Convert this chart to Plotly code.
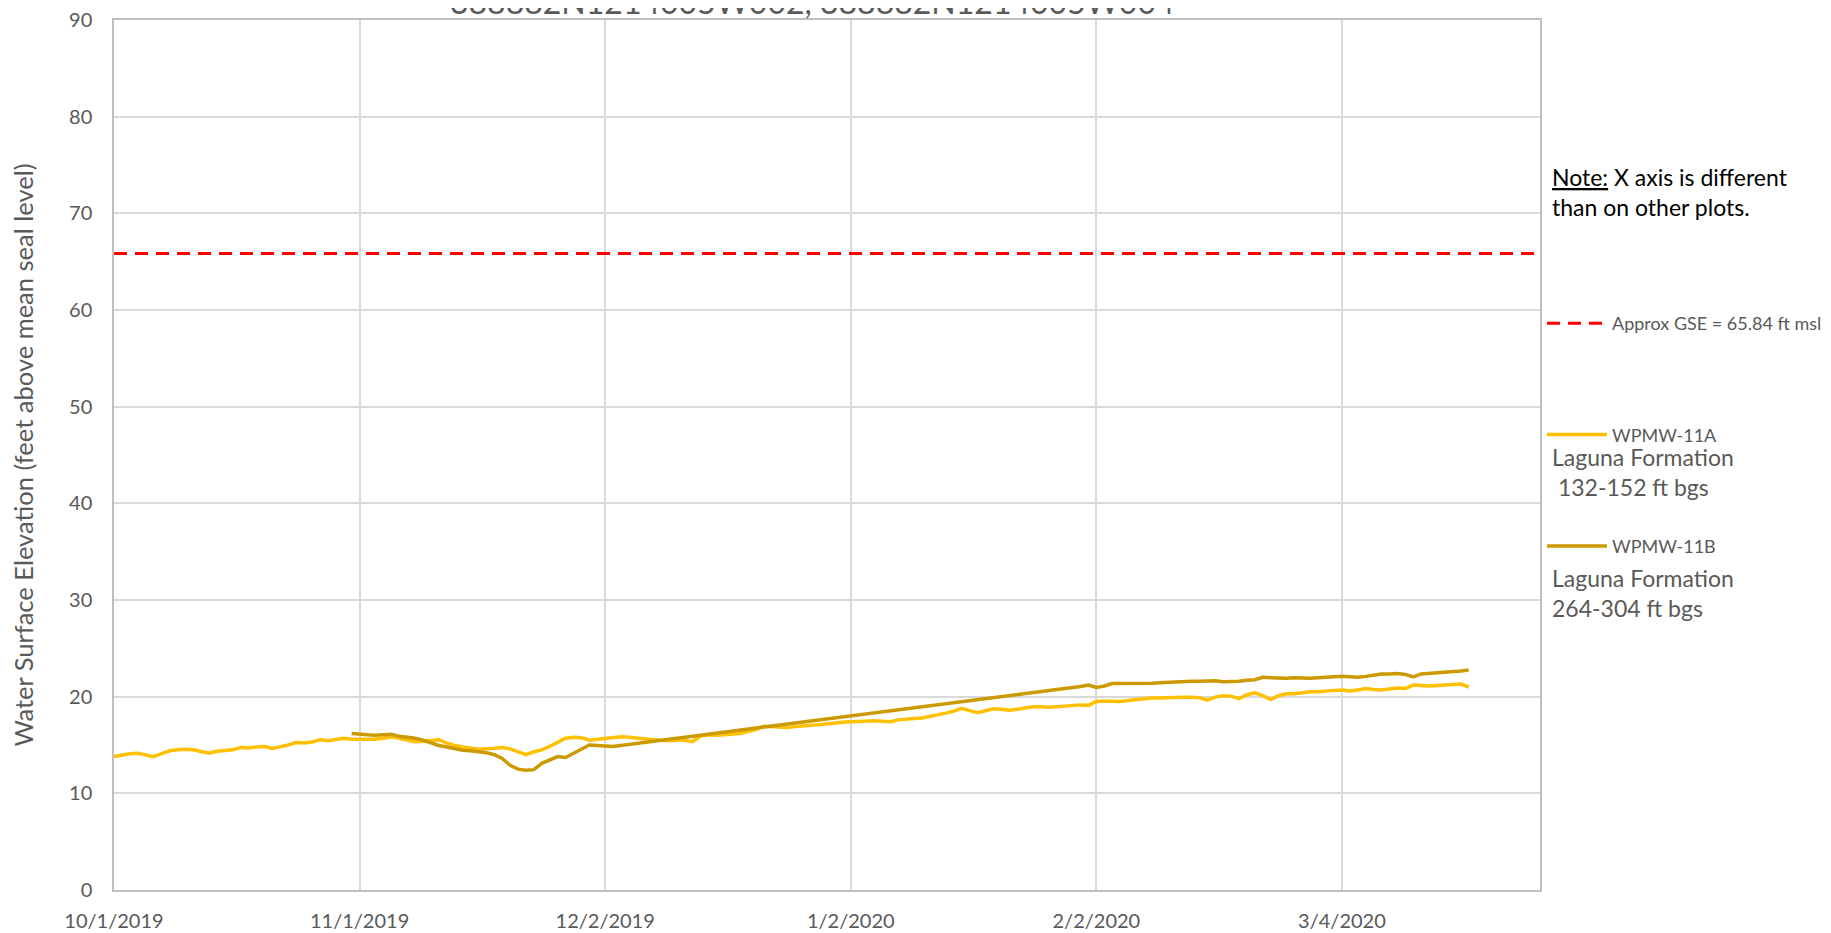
import pandas as pd
import plotly.graph_objects as go

# ---------------- data ----------------
wpmw11a_start = "2019-10-01"
wpmw11a_values = [
    13.8, 13.95, 14.1, 14.15, 14.0, 13.8, 14.1, 14.4, 14.5, 14.55,
    14.5, 14.3, 14.15, 14.35, 14.45, 14.5, 14.75, 14.7, 14.8, 14.85,
    14.65, 14.8, 15.0, 15.25, 15.2, 15.3, 15.55, 15.45, 15.55, 15.7,
    15.6, 15.6, 15.65, 15.6, 15.7, 15.85, 15.7, 15.5, 15.35, 15.4,
    15.45, 15.55, 15.2, 14.95, 14.8, 14.65, 14.55, 14.6, 14.7, 14.75,
    14.6, 14.3, 14.0, 14.3, 14.5, 14.85, 15.3, 15.7, 15.8, 15.75,
    15.5, 15.6, 15.7, 15.75, 15.85, 15.8, 15.7, 15.6, 15.55, 15.5,
    15.45, 15.5, 15.5, 15.35, 15.9, 16.05, 16.0, 16.05, 16.1, 16.2,
    16.4, 16.6, 16.95, 16.9, 16.85, 16.8, 16.9, 17.0, 17.05, 17.1,
    17.2, 17.25, 17.35, 17.4, 17.45, 17.5, 17.5, 17.45, 17.4, 17.6,
    17.7, 17.75, 17.8, 17.95, 18.15, 18.3, 18.5, 18.8, 18.55, 18.35,
    18.55, 18.75, 18.7, 18.6, 18.7, 18.85, 18.95, 18.95, 18.9, 18.95,
    19.0, 19.1, 19.15, 19.1, 19.5, 19.55, 19.55, 19.5, 19.6, 19.7,
    19.75, 19.85, 19.85, 19.9, 19.9, 19.95, 19.95, 19.9, 19.65, 19.95,
    20.1, 20.05, 19.8, 20.2, 20.4, 20.1, 19.7, 20.1, 20.3, 20.3,
    20.4, 20.5, 20.5, 20.6, 20.65, 20.7, 20.6, 20.7, 20.85, 20.75,
    20.7, 20.8, 20.9, 20.85, 21.2, 21.15, 21.1, 21.15, 21.2, 21.25,
    21.3, 21.0,
]

wpmw11b_part1_start = "2019-10-31"
wpmw11b_part1_values = [
    16.2, 16.1, 16.05, 16.0, 16.05, 16.1, 15.9, 15.8, 15.7, 15.5,
    15.2, 14.95, 14.8, 14.65, 14.45, 14.4, 14.3, 14.2, 14.0, 13.6,
    12.9, 12.5, 12.4, 12.45, 13.1, 13.45, 13.8, 13.7, 14.15, 14.6,
    15.0, 14.95, 14.9, 14.85,
]
wpmw11b_part2_start = "2020-01-31"
wpmw11b_part2_values = [
    21.05, 21.2, 20.95, 21.1, 21.35, 21.35, 21.4, 21.35,
    21.35, 21.4, 21.45, 21.5, 21.55, 21.55, 21.6, 21.6, 21.6, 21.65,
    21.55, 21.55, 21.6, 21.7, 21.75, 22.0, 21.95, 21.9, 21.9, 21.95,
    21.9, 21.9, 21.95, 22.0, 22.1, 22.1, 22.05, 22.0, 22.1, 22.25,
    22.35, 22.35, 22.4, 22.3, 22.05, 22.35, 22.4, 22.45, 22.5, 22.55,
    22.65, 22.75,
]

gse_dates = ["2019-10-01", "2020-03-29"]
gse_values = [65.84, 65.84]

x_range = ["2019-10-01", "2020-03-29"]
tick_dates = ["2019-10-01", "2019-11-01", "2019-12-02", "2020-01-02", "2020-02-02", "2020-03-04"]
tick_labels = ["10/1/2019", "11/1/2019", "12/2/2019", "1/2/2020", "2/2/2020", "3/4/2020"]
y_ticks = [0, 10, 20, 30, 40, 50, 60, 70, 80, 90]

# ---------------- build ----------------
a_dates = pd.date_range(wpmw11a_start, periods=len(wpmw11a_values), freq="D")
b_dates = list(pd.date_range(wpmw11b_part1_start, periods=len(wpmw11b_part1_values), freq="D")) + \
          list(pd.date_range(wpmw11b_part2_start, periods=len(wpmw11b_part2_values), freq="D"))
b_values = wpmw11b_part1_values + wpmw11b_part2_values

FONT = "Lato, 'Open Sans', sans-serif"
GREY = "#595959"

# the page body adds an 8px offset; the figure is sized so it ends at the window edge
OFF = 8
W, H = 1831 - OFF, 933 - OFF
ML, MT = 114 - OFF, 20 - OFF
PLOT_R, PLOT_B = 1540 - OFF, 890 - OFF
MR, MB = W - PLOT_R, H - PLOT_B
PW = PLOT_R - ML
PH = PLOT_B - MT


def px_x(x_ref):
    return (x_ref - OFF - ML) / PW


def px_y(y_ref):
    return (PLOT_B - (y_ref - OFF)) / PH


fig = go.Figure()
fig.add_trace(go.Scatter(
    x=gse_dates, y=gse_values, mode="lines", name="Approx GSE = 65.84 ft msl",
    line=dict(color="#FF0000", width=3, dash="13px,8px"),
    legendgroup="g1", legendrank=1, hoverinfo="skip"))
fig.add_trace(go.Scatter(
    x=a_dates, y=wpmw11a_values, mode="lines", name="WPMW-11A",
    line=dict(color="#FFC000", width=3.5),
    legendgroup="g2", legendrank=2))
fig.add_trace(go.Scatter(
    x=b_dates, y=b_values, mode="lines", name="WPMW-11B",
    line=dict(color="#CC9A00", width=3.5),
    legendgroup="g3", legendrank=3))

annotations = [
    dict(text="388882N1214005W002, 388882N1214005W004", xref="paper", yref="paper",
         x=px_x(812), y=px_y(2), xanchor="center", yanchor="middle", showarrow=False,
         font=dict(family=FONT, size=32, color=GREY)),
    dict(text="<u>Note:</u> X axis is different<br>than on other plots.", xref="paper", yref="paper",
         x=px_x(1550), y=px_y(192), xanchor="left", yanchor="middle", align="left", showarrow=False,
         font=dict(family=FONT, size=23, color="#000000")),
    dict(text="Laguna Formation<br>\u00a0132-152 ft bgs", xref="paper", yref="paper",
         x=px_x(1550), y=px_y(472), xanchor="left", yanchor="middle", align="left", showarrow=False,
         font=dict(family=FONT, size=23, color=GREY)),
    dict(text="Laguna Formation<br>264-304 ft bgs", xref="paper", yref="paper",
         x=px_x(1550), y=px_y(593), xanchor="left", yanchor="middle", align="left", showarrow=False,
         font=dict(family=FONT, size=23, color=GREY)),
]

fig.update_layout(
    width=W, height=H,
    margin=dict(l=ML, r=MR, t=MT, b=MB, autoexpand=False),
    paper_bgcolor="white", plot_bgcolor="white",
    font=dict(family=FONT, color=GREY),
    showlegend=True,
    legend=dict(x=px_x(1542), y=px_y(305), xanchor="left", yanchor="top",
                traceorder="grouped", tracegroupgap=85, itemwidth=60,
                font=dict(family=FONT, size=18, color=GREY),
                bgcolor="rgba(0,0,0,0)"),
    annotations=annotations,
    xaxis=dict(
        type="date", range=x_range, tickmode="array", tickvals=tick_dates, ticktext=tick_labels,
        showgrid=True, gridcolor="#D9D9D9", gridwidth=1.5,
        showline=True, linecolor="#BFBFBF", linewidth=1.5, mirror=True,
        ticks="", ticklabelstandoff=12, zeroline=False, ticklabeloverflow="allow",
        tickfont=dict(family=FONT, size=20, color=GREY),
    ),
    yaxis=dict(
        range=[0, 90], tickmode="array", tickvals=y_ticks,
        showgrid=True, gridcolor="#D9D9D9", gridwidth=1.5,
        showline=True, linecolor="#BFBFBF", linewidth=1.5, mirror=True,
        ticks="", ticklabelstandoff=16, zeroline=False, ticklabeloverflow="allow",
        tickfont=dict(family=FONT, size=20, color=GREY),
        title=dict(text="Water Surface Elevation (feet above mean seal level)",
                   font=dict(family=FONT, size=25.5, color=GREY), standoff=32),
    ),
)

fig.write_html("out.html")
